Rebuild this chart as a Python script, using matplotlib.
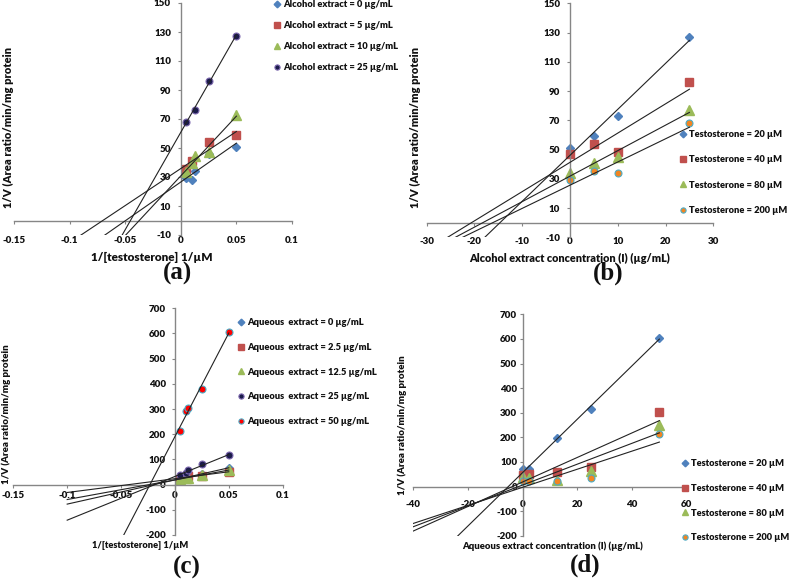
import numpy as np
import matplotlib

matplotlib.use("Agg")
import matplotlib.pyplot as plt

W, H = 791, 581

# (a) Lineweaver-Burk, alcohol extract
a_x_0 = [0.005, 0.01, 0.0125, 0.025, 0.05]
a_y_0 = [29, 27.7, 34, 46, 51]
a_x_5 = [0.005, 0.01, 0.025, 0.05]
a_y_5 = [35.6, 40.7, 54, 59]
a_x_10 = [0.005, 0.01, 0.0125, 0.025, 0.05]
a_y_10 = [33.5, 39.5, 44.8, 47.5, 73]
a_x_25 = [0.005, 0.0125, 0.025, 0.05]
a_y_25 = [67.6, 76.3, 96.4, 127.4]

# (b) Dixon, alcohol extract
b_conc = [0, 5, 10, 25]
b_t20 = [51, 59, 73, 127]
b_t40 = [47, 54, 48, 96]
b_t80 = [34, 41, 45, 77]
b_t200 = [29, 35, 34, 68]

# (c) Lineweaver-Burk, aqueous extract
c_inv_s = [0.005, 0.01, 0.0125, 0.025, 0.05]
c_y_0 = [24, 27, 32, 42, 67]
c_y_2_5 = [24, 30, 33, 36, 51]
c_y_12_5 = [23, 27, 28, 38, 58]
c_y_25 = [37, 45, 60, 82, 116]
c_y_50 = [213, 293, 306, 380, 605]

# (d) Dixon, aqueous extract
d_conc = [0, 2.5, 12.5, 25, 50]
d_t20 = [72, 70, 198, 315, 605]
d_t40 = [47, 50, 60, 81, 303]
d_t80 = [38, 34, 28, 62, 250]
d_t200 = [24, 24, 21, 33, 213]

BLUE = "#4F81BD"
RED = "#C0504D"
GREEN = "#9BBB59"
NAVY = "#1B1B4B"
NAVY_EDGE = "#7E6AB0"
ORANGE = "#F28522"
CYAN = "#4BACC6"
BRIGHT_RED = "#FF0000"
AXIS = "#868686"
TEXT = "#111111"
LINE = "#222222"

STYLE_BLUE = dict(marker="D", ms=4.5, mfc=BLUE, mec=BLUE)
STYLE_RED = dict(marker="s", ms=6, mfc=RED, mec=RED)
STYLE_GREEN = dict(marker="^", ms=6.5, mfc=GREEN, mec=GREEN)
STYLE_NAVY = dict(marker="o", ms=5, mfc=NAVY, mec=NAVY_EDGE, mew=0.8)
STYLE_ORANGE = dict(marker="o", ms=5, mfc=ORANGE, mec=CYAN, mew=0.8)
STYLE_BRED = dict(marker="o", ms=5, mfc=BRIGHT_RED, mec=CYAN, mew=0.8)

plt.rcParams["font.family"] = ["Lato", "DejaVu Sans"]
plt.rcParams["font.weight"] = "heavy"

fig = plt.figure(figsize=(W / 100, H / 100), dpi=100)


def px_rect(x0, x1, y_top, y_bottom):
    return [x0 / W, 1 - y_bottom / H, (x1 - x0) / W, (y_bottom - y_top) / H]


def fig_text(x, y, s, **kw):
    fig.text(x / W, 1 - y / H, s, ha="center", va="center", color=TEXT, **kw)


def setup(ax, xlim, ylim, xticks, xlabels, yticks, xpad, ypad):
    ax.set_xlim(*xlim)
    ax.set_ylim(*ylim)
    ax.patch.set_alpha(0)
    for side in ("top", "right"):
        ax.spines[side].set_visible(False)
    for side in ("left", "bottom"):
        ax.spines[side].set_position(("data", 0))
        ax.spines[side].set_color(AXIS)
        ax.spines[side].set_linewidth(1.0)
    ax.set_xticks(xticks, xlabels)
    ax.set_yticks(yticks, [f"{v:g}" for v in yticks])
    ax.tick_params(axis="both", direction="out", length=2.5, width=0.8,
                   color=AXIS, labelsize=7, labelcolor=TEXT)
    ax.tick_params(axis="x", pad=xpad)
    ax.tick_params(axis="y", pad=ypad)


def series(ax, x, y, style, label, x_from):
    ax.plot(x, y, linestyle="none", label=label, zorder=2, **style)
    slope, icpt = np.polyfit(x, y, 1)
    xs = np.array([x_from, max(x)])
    ax.plot(xs, slope * xs + icpt, color=LINE, lw=0.8, zorder=3)


def legend(ax, x, y, spacing):
    ax.legend(loc="upper left", bbox_to_anchor=(x / W, 1 - y / H),
              bbox_transform=fig.transFigure, frameon=False, fontsize=6.7,
              handlelength=0.7, handletextpad=0.25, borderpad=0,
              borderaxespad=0, labelspacing=spacing, numpoints=1,
              markerscale=0.75, labelcolor=TEXT)


# ---- (a)
ax_a = fig.add_axes(px_rect(14, 292, 3, 235))
setup(ax_a, (-0.15, 0.1), (-10, 150),
      [-0.15, -0.1, -0.05, 0, 0.05, 0.1],
      ["-0.15", "-0.1", "-0.05", "0", "0.05", "0.1"],
      np.arange(-10, 151, 20), 8.5, 4.5)
series(ax_a, a_x_0, a_y_0, STYLE_BLUE, "Alcohol extract = 0 µg/mL", -0.1)
series(ax_a, a_x_5, a_y_5, STYLE_RED, "Alcohol extract = 5 µg/mL", -0.1)
series(ax_a, a_x_10, a_y_10, STYLE_GREEN, "Alcohol extract = 10 µg/mL", -0.1)
series(ax_a, a_x_25, a_y_25, STYLE_NAVY, "Alcohol extract = 25 µg/mL", -0.1)
legend(ax_a, 274, 0, 1.3)
fig_text(152, 257, "1/[testosterone] 1/µM", fontsize=8.5)
fig_text(8, 127, "1/V (Area ratio/min/mg protein", fontsize=8, rotation=90)
fig_text(177, 273, "(a)", fontsize=18, family="Liberation Serif", weight="bold")

# ---- (b)
ax_b = fig.add_axes(px_rect(426.7, 713.3, 3.3, 237.3))
setup(ax_b, (-30, 30), (-10, 150), np.arange(-30, 31, 10),
      [f"{v}" for v in range(-30, 31, 10)], np.arange(-10, 151, 20), 8, 4.5)
series(ax_b, b_conc, b_t20, STYLE_BLUE, "Testosterone = 20 µM", -30)
series(ax_b, b_conc, b_t40, STYLE_RED, "Testosterone = 40 µM", -30)
series(ax_b, b_conc, b_t80, STYLE_GREEN, "Testosterone = 80 µM", -30)
series(ax_b, b_conc, b_t200, STYLE_ORANGE, "Testosterone = 200 µM", -30)
legend(ax_b, 680, 130, 1.75)
fig_text(570, 258, "Alcohol extract concentration (I) (µg/mL)", fontsize=7.8)
fig_text(415, 127, "1/V (Area ratio/min/mg protein", fontsize=8, rotation=90)
fig_text(608, 273, "(b)", fontsize=18, family="Liberation Serif", weight="bold")

# ---- (c)
ax_c = fig.add_axes(px_rect(13.3, 282.7, 308.3, 535))
setup(ax_c, (-0.15, 0.1), (-200, 700),
      [-0.15, -0.1, -0.05, 0, 0.05, 0.1],
      ["-0.15", "-0.1", "-0.05", "0", "0.05", "0.1"],
      np.arange(-200, 701, 100), 2, 4)
series(ax_c, c_inv_s, c_y_0, STYLE_BLUE, "Aqueous  extract = 0 µg/mL", -0.1)
series(ax_c, c_inv_s, c_y_2_5, STYLE_RED, "Aqueous  extract = 2.5 µg/mL", -0.1)
series(ax_c, c_inv_s, c_y_12_5, STYLE_GREEN, "Aqueous  extract = 12.5 µg/mL", -0.1)
series(ax_c, c_inv_s, c_y_25, STYLE_NAVY, "Aqueous  extract = 25 µg/mL", -0.1)
series(ax_c, c_inv_s, c_y_50, STYLE_BRED, "Aqueous  extract = 50 µg/mL", -0.1)
legend(ax_c, 238, 318, 1.7)
fig_text(140, 545, "1/[testosterone] 1/µM", fontsize=6.7)
fig_text(6, 414, "1/V (Area ratio/min/mg protein", fontsize=7, rotation=90)
fig_text(187, 567, "(c)", fontsize=18, family="Liberation Serif", weight="bold")

# ---- (d)
ax_d = fig.add_axes(px_rect(413.3, 686.7, 314.3, 535.7))
setup(ax_d, (-40, 60), (-200, 700), np.arange(-40, 61, 20),
      [f"{v}" for v in range(-40, 61, 20)], np.arange(-200, 701, 100), 7, 1.5)
series(ax_d, d_conc, d_t20, STYLE_BLUE, "Testosterone = 20 µM", -40)
series(ax_d, d_conc, d_t40, STYLE_RED, "Testosterone = 40 µM", -40)
series(ax_d, d_conc, d_t80, STYLE_GREEN, "Testosterone = 80 µM", -40)
series(ax_d, d_conc, d_t200, STYLE_ORANGE, "Testosterone = 200 µM", -40)
legend(ax_d, 682, 459, 1.7)
fig_text(552, 546, "Aqueous extract concentration (I) (µg/mL)", fontsize=6.8)
fig_text(402, 425, "1/V (Area ratio/min/mg protein", fontsize=7, rotation=90)
fig_text(585, 565, "(d)", fontsize=18, family="Liberation Serif", weight="bold")

fig.savefig("out.png", dpi=100)
